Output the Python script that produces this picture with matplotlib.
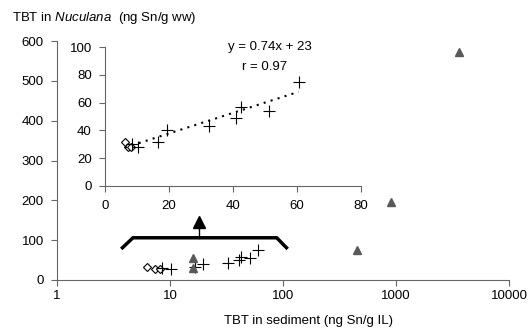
import numpy as np
import matplotlib
matplotlib.use('Agg')
import matplotlib.pyplot as plt

plt.rcParams['font.family'] = ['Liberation Sans', 'DejaVu Sans']
plt.rcParams['mathtext.fontset'] = 'custom'
plt.rcParams['mathtext.it'] = 'Liberation Sans:italic'
plt.rcParams['mathtext.rm'] = 'Liberation Sans'

# open diamonds
dia_x = [6.2, 7.3, 8.2]
dia_y = [32, 28, 28]
# crosses
cross_x = [8.5, 10.3, 16.6, 19.5, 32.5, 41, 42.5, 51.3, 60.5]
cross_y = [30, 28, 32, 40, 43, 49, 57, 54, 75]
# grey triangles (main plot only)
tri_x = [16, 16, 450, 910, 3600]
tri_y = [55, 30, 75, 197, 573]
# regression line
slope, intercept = 0.74, 23
# bracket marking the zoomed range
brk_x = [3.7, 4.7, 88, 110]
brk_y = [78, 106, 106, 78]
arrow_x = 18

axcol = '#666666'
fs = 9.5

fig = plt.figure(figsize=(5.28, 3.29), dpi=100)

ax = fig.add_axes([57/528, (329-280)/329, (509-57)/528, (280-41)/329])
ax.set_xscale('log')
ax.set_xlim(1, 10000)
ax.set_ylim(0, 600)
ax.set_yticks([0, 100, 200, 300, 400, 500, 600])
ax.set_xticks([1, 10, 100, 1000, 10000])
ax.set_xticklabels(['1', '10', '100', '1000', '10000'])
ax.minorticks_off()
for s in ['top', 'right']:
    ax.spines[s].set_visible(False)
for s in ['left', 'bottom']:
    ax.spines[s].set_color(axcol)
ax.tick_params(direction='out', length=4, color=axcol, labelsize=fs)
ax.tick_params(axis='y', pad=5.5)
ax.tick_params(axis='x', pad=3)

ax.plot(dia_x, dia_y, linestyle='none', marker='D', ms=4.5, mfc='white', mec='black', mew=0.8)
ax.plot(cross_x, cross_y, linestyle='none', marker='+', ms=8, color='black', mew=0.8)
ax.plot(tri_x, tri_y, linestyle='none', marker='^', ms=6, color='#595959')

ax.plot(brk_x, brk_y, color='black', lw=2.5, solid_capstyle='butt')
ax.plot([arrow_x, arrow_x], [106, 135], color='black', lw=1)
ax.plot([arrow_x], [146], marker='^', ms=9, color='black', linestyle='none')

fig.text(12/528, 1 - 18/329, 'TBT in $\\mathit{Nuculana}$  (ng Sn/g ww)', fontsize=fs, va='center', ha='left')
fig.text(308/528, 1 - 321/329, 'TBT in sediment (ng Sn/g IL)', fontsize=fs, va='center', ha='center')

# inset
ins = fig.add_axes([105/528, (329-186)/329, 256/528, 139/329])
ins.patch.set_alpha(0)
ins.set_xlim(0, 80)
ins.set_ylim(0, 100)
ins.set_xticks([0, 20, 40, 60, 80])
ins.set_yticks([0, 20, 40, 60, 80, 100])
for s in ['top', 'right']:
    ins.spines[s].set_visible(False)
for s in ['left', 'bottom']:
    ins.spines[s].set_color(axcol)
ins.tick_params(direction='out', length=4, color=axcol, labelsize=fs)
ins.tick_params(axis='y', pad=5.5)
ins.tick_params(axis='x', pad=6)

ins.plot(dia_x, dia_y, linestyle='none', marker='D', ms=4.5, mfc='white', mec='black', mew=0.8)
ins.plot(cross_x, cross_y, linestyle='none', marker='+', ms=8, color='black', mew=0.8)
xl = np.array([min(dia_x), max(cross_x)])
ins.plot(xl, slope * xl + intercept, color='black', lw=1.5, linestyle=(0, (1, 2.5)))

ins.text(51.5, 100, 'y = 0.74x + 23', fontsize=fs, ha='center', va='center')
ins.text(49.8, 85.6, 'r = 0.97', fontsize=fs, ha='center', va='center')

fig.savefig('out.png', dpi=100)
